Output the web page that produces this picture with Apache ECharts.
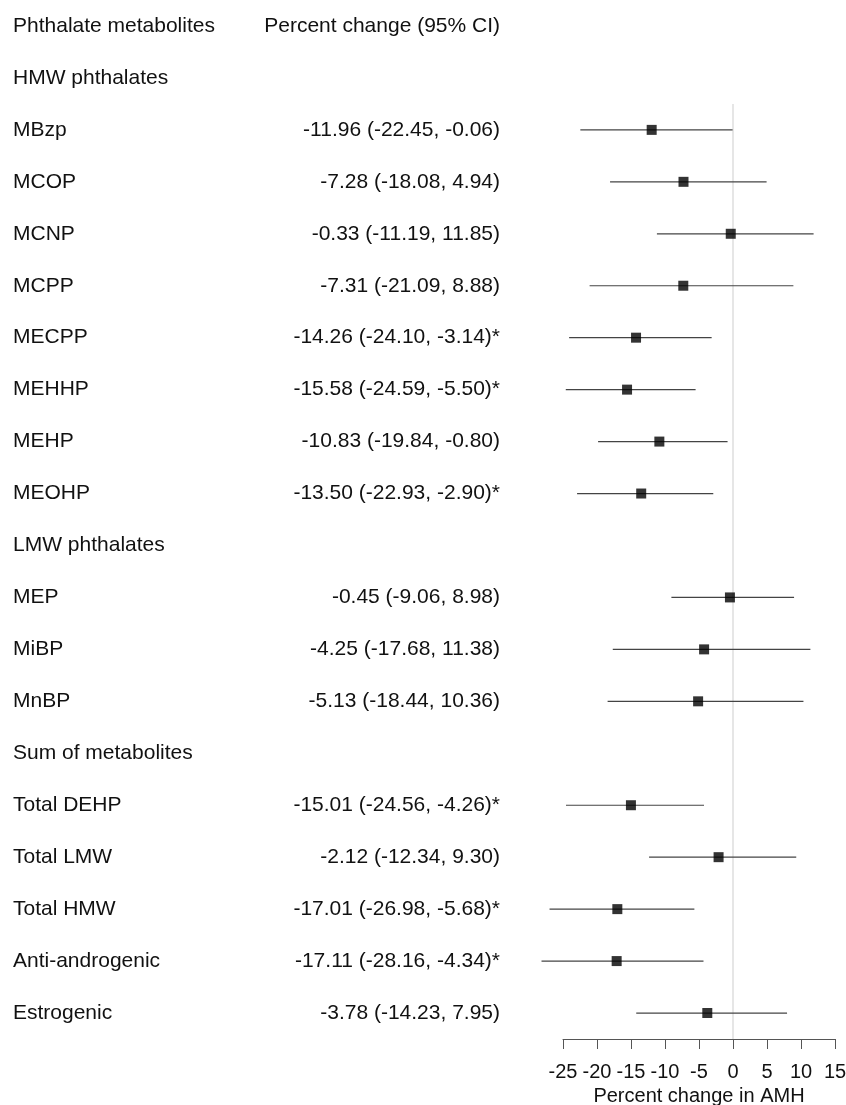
<!DOCTYPE html>
<html>
<head>
<meta charset="utf-8">
<script src="https://cdn.jsdelivr.net/npm/echarts@6/dist/echarts.min.js"></script>
<style>
html,body{margin:0;padding:0;background:#fff;}
#chart{width:846px;height:1105px;}
</style>
</head>
<body>
<div id="chart"></div>
<script>
const rowLabels = ['Phthalate metabolites','HMW phthalates','MBzp','MCOP','MCNP','MCPP','MECPP','MEHHP','MEHP','MEOHP','LMW phthalates','MEP','MiBP','MnBP','Sum of metabolites','Total DEHP','Total LMW','Total HMW','Anti-androgenic','Estrogenic'];
const estimate = [null,null,-11.96,-7.28,-0.33,-7.31,-14.26,-15.58,-10.83,-13.50,null,-0.45,-4.25,-5.13,null,-15.01,-2.12,-17.01,-17.11,-3.78];
const lower =    [null,null,-22.45,-18.08,-11.19,-21.09,-24.10,-24.59,-19.84,-22.93,null,-9.06,-17.68,-18.44,null,-24.56,-12.34,-26.98,-28.16,-14.23];
const upper =    [null,null,-0.06,4.94,11.85,8.88,-3.14,-5.50,-0.80,-2.90,null,8.98,11.38,10.36,null,-4.26,9.30,-5.68,-4.34,7.95];
const significant = [false,false,false,false,false,false,true,true,false,true,false,false,false,false,false,true,false,true,true,false];
const ciHeader = 'Percent change (95% CI)';
const xAxisTitle = 'Percent change in AMH';
const xMin = -25, xMax = 15, xStep = 5;
const refValue = 0;

const FONT = "'Liberation Sans', Arial, sans-serif";
const ciLabels = rowLabels.map((r, i) => {
  if (i === 0) return ciHeader;
  if (estimate[i] === null) return '';
  return estimate[i].toFixed(2) + ' (' + lower[i].toFixed(2) + ', ' + upper[i].toFixed(2) + ')' + (significant[i] ? '*' : '');
});
const firstDataRow = estimate.findIndex(v => v !== null);

const pointData = [], barData = [];
estimate.forEach((v, i) => {
  if (v !== null) {
    pointData.push([v, i]);
    barData.push([lower[i], upper[i], i]);
  }
});

const chart = echarts.init(document.getElementById('chart'), null, {renderer: 'canvas'});
const GRID_LEFT = 563;
chart.setOption({
  backgroundColor: '#ffffff',
  animation: false,
  textStyle: {fontFamily: FONT},
  grid: {left: GRID_LEFT, right: 11, top: 0, bottom: 66, containLabel: false, outerBoundsMode: 'none'},
  xAxis: {
    type: 'value', min: xMin, max: xMax, interval: xStep,
    position: 'bottom',
    splitLine: {show: false},
    axisLine: {show: true, onZero: false, lineStyle: {color: '#555', width: 1}},
    axisTick: {show: true, length: 10, lineStyle: {color: '#555', width: 1}},
    axisLabel: {fontSize: 20, color: '#111', margin: 23, fontFamily: FONT},
    name: xAxisTitle, nameLocation: 'middle', nameGap: 42,
    nameTextStyle: {fontSize: 20, color: '#111', fontFamily: FONT}
  },
  yAxis: [
    {
      type: 'category', data: rowLabels, inverse: true, position: 'left',
      axisLine: {show: false}, axisTick: {show: false}, splitLine: {show: false},
      axisLabel: {align: 'left', margin: GRID_LEFT - 13, fontSize: 21, color: '#111', fontFamily: FONT, interval: 0}
    },
    {
      type: 'category', data: ciLabels, inverse: true, position: 'left',
      axisLine: {show: false}, axisTick: {show: false}, splitLine: {show: false},
      axisLabel: {align: 'right', margin: GRID_LEFT - 500, fontSize: 21, color: '#111', fontFamily: FONT, interval: 0}
    },
    {
      type: 'value', min: 0, max: rowLabels.length, inverse: true, show: false
    }
  ],
  series: [
    {
      type: 'line', yAxisIndex: 2, silent: true, symbol: 'none',
      lineStyle: {color: '#dedede', width: 1.5},
      data: [[refValue, firstDataRow], [refValue, rowLabels.length]],
      z: 1
    },
    {
      type: 'custom', yAxisIndex: 0, clip: false, silent: true,
      data: barData,
      renderItem: function (params, api) {
        const p1 = api.coord([api.value(0), api.value(2)]);
        const p2 = api.coord([api.value(1), api.value(2)]);
        return {
          type: 'line',
          shape: {x1: p1[0], y1: p1[1], x2: p2[0], y2: p2[1]},
          style: {stroke: '#444', lineWidth: 1.2}
        };
      },
      z: 2
    },
    {
      type: 'scatter', yAxisIndex: 0, symbol: 'rect', symbolSize: 10,
      itemStyle: {color: '#000'}, data: pointData, clip: false, z: 3
    }
  ]
});
</script>
</body>
</html>
